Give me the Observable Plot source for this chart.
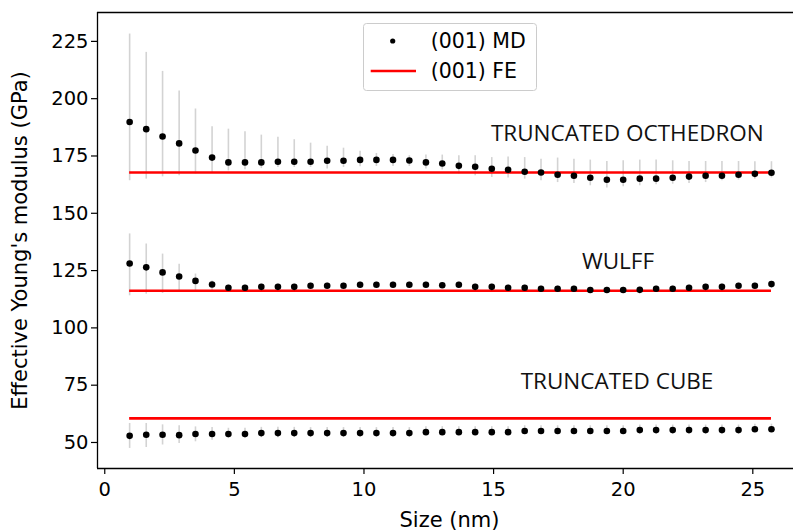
<!DOCTYPE html>
<html>
<head>
<meta charset="utf-8">
<script src="https://cdn.jsdelivr.net/npm/d3@7"></script>
<script src="https://cdn.jsdelivr.net/npm/@observablehq/plot@0.6"></script>
<style>
  html, body { margin: 0; padding: 0; background: #fff; overflow: hidden; }
  #wrap { position: relative; width: 793px; height: 531px; }
  #legend { position: absolute; left: 363px; top: 23px; }
</style>
</head>
<body>
<div id="wrap"></div>
<script>
// ---- data ----
const sizes = [0.96, 1.60, 2.23, 2.87, 3.50, 4.14, 4.77, 5.41, 6.04, 6.68,
               7.31, 7.94, 8.58, 9.21, 9.85, 10.48, 11.12, 11.75, 12.39, 13.02,
               13.66, 14.29, 14.93, 15.56, 16.20, 16.83, 17.47, 18.10, 18.73, 19.37,
               20.00, 20.64, 21.27, 21.91, 22.54, 23.18, 23.81, 24.45, 25.08, 25.72];

const shapes = ["TRUNCATED OCTHEDRON", "WULFF", "TRUNCATED CUBE"];

const octMD = [189.8, 186.7, 183.5, 180.5, 177.4, 174.3, 172.2, 172.2, 172.2, 172.5,
               172.5, 172.5, 172.9, 172.9, 173.3, 173.3, 173.3, 173.0, 172.2, 171.7,
               170.7, 170.3, 169.4, 169.0, 168.1, 167.8, 166.8, 166.4, 165.5, 164.6,
               164.6, 165.1, 165.1, 165.5, 166.0, 166.4, 166.4, 166.8, 167.2, 167.7];
const octLo = [164.2, 164.9, 165.9, 166.4, 167.1, 167.8, 168.5, 169.0, 169.5, 170.0,
               170.0, 170.0, 169.3, 170.0, 170.3, 170.4, 170.4, 170.4, 169.3, 168.9,
               167.1, 166.4, 165.6, 165.4, 164.9, 164.2, 163.4, 163.0, 162.0, 161.0,
               161.6, 162.0, 162.4, 162.7, 163.0, 163.4, 164.2, 164.5, 164.9, 165.4];
const octHi = [228.2, 220.2, 211.9, 203.4, 195.5, 187.7, 186.7, 185.6, 184.1, 183.2,
               182.1, 180.6, 179.3, 178.4, 177.1, 176.1, 175.7, 175.1, 175.4, 175.4,
               175.1, 175.1, 174.3, 174.6, 174.3, 173.6, 174.1, 173.6, 173.2, 172.6,
               172.9, 173.2, 173.2, 172.9, 172.6, 172.6, 172.6, 172.6, 172.5, 172.5];

const wulMD = [128.1, 126.4, 124.2, 122.4, 120.5, 118.9, 117.5, 117.5, 117.9, 117.9,
               117.9, 118.4, 118.4, 118.4, 118.8, 118.8, 118.8, 118.8, 118.8, 118.6,
               118.8, 117.9, 117.9, 117.5, 117.5, 117.1, 117.1, 117.1, 116.5, 116.5,
               116.5, 116.6, 117.1, 117.1, 117.5, 117.9, 117.9, 118.4, 118.4, 119.1];
const wulLo = [114.0, 114.7, 115.0, 115.4, 115.7, 115.4, 116.3, 116.3, 116.7, 116.7,
               116.7, 117.2, 117.2, 117.2, 117.6, 117.6, 117.6, 117.6, 117.6, 117.4,
               117.6, 116.7, 116.7, 116.3, 116.3, 115.9, 115.9, 115.9, 115.3, 115.3,
               115.3, 115.4, 115.9, 115.9, 116.3, 116.7, 116.7, 117.2, 117.2, 117.9];
const wulHi = [141.0, 136.6, 132.2, 127.8, 123.5, 120.5, 118.7, 118.7, 119.1, 119.1,
               119.1, 119.6, 119.6, 119.6, 120.0, 120.0, 120.0, 120.0, 120.0, 119.8,
               120.0, 119.1, 119.1, 118.7, 118.7, 118.3, 118.3, 118.3, 117.7, 117.7,
               117.7, 117.8, 118.3, 118.3, 118.7, 119.1, 119.1, 119.6, 119.6, 120.3];

const cubMD = [52.9, 53.4, 53.4, 53.2, 53.7, 53.7, 53.7, 53.7, 54.1, 54.1,
               54.1, 54.1, 54.1, 54.1, 54.1, 54.1, 54.1, 54.1, 54.5, 54.5,
               54.5, 54.5, 54.5, 54.5, 55.0, 55.0, 55.0, 55.0, 55.0, 55.0,
               55.0, 55.4, 55.4, 55.4, 55.4, 55.4, 55.4, 55.4, 55.8, 55.8];
const cubLo = [47.4, 47.8, 48.9, 49.6, 50.3, 51.0, 51.7, 51.7, 52.1, 52.1,
               52.3, 52.3, 52.4, 52.4, 52.6, 52.6, 52.8, 52.8, 53.2, 53.2,
               53.3, 53.3, 53.4, 53.4, 53.9, 53.9, 54.0, 54.0, 54.0, 54.0,
               54.0, 54.4, 54.4, 54.4, 54.4, 54.4, 54.4, 54.4, 54.8, 54.8];
const cubHi = [58.3, 58.3, 57.7, 57.3, 56.8, 56.5, 56.2, 56.2, 56.6, 56.6,
               56.6, 56.5, 56.5, 56.5, 56.5, 56.5, 56.5, 56.5, 56.9, 56.9,
               56.9, 56.9, 56.9, 56.9, 57.3, 57.3, 57.3, 57.3, 57.3, 57.3,
               57.3, 57.6, 57.6, 57.6, 57.6, 57.6, 57.6, 57.6, 58.0, 58.0];

const feValues = [167.8, 116.2, 60.5];

const annX = [20.16, 19.8, 19.76];
const annY = [184.7, 128.8, 76.5];

const xTicks = [0, 5, 10, 15, 20, 25];
const yTicks = [50, 75, 100, 125, 150, 175, 200, 225];
const xLabel = "Size (nm)";
const yLabel = "Effective Young's modulus (GPa)";
const legendLabels = ["(001) MD", "(001) FE"];

// ---- tables ----
const series = [
  {shape: shapes[0], md: octMD, lo: octLo, hi: octHi},
  {shape: shapes[1], md: wulMD, lo: wulLo, hi: wulHi},
  {shape: shapes[2], md: cubMD, lo: cubLo, hi: cubHi}
];
const rows = series.flatMap(s => sizes.map((x, i) => ({shape: s.shape, size: x, md: s.md[i], lo: s.lo[i], hi: s.hi[i]})));
const feRows = shapes.map((s, i) => ({shape: s, fe: feValues[i], x1: sizes[0], x2: sizes[sizes.length - 1]}));
const annRows = shapes.map((s, i) => ({text: s, x: annX[i], y: annY[i]}));

const xDomain = [-0.28, 26.57];
const yDomain = [38.65, 237.6];

const chart = Plot.plot({
  width: 793,
  height: 531,
  marginLeft: 97,
  marginRight: 0,
  marginTop: 12,
  marginBottom: 63,
  x: {domain: xDomain},
  y: {domain: yDomain},
  style: {fontFamily: "DejaVu Sans", fontSize: "19.5px", color: "#000", background: "#fff"},
  marks: [
    Plot.ruleX(rows, {x: "size", y1: "lo", y2: "hi", stroke: "#d3d3d3", strokeWidth: 1.6}),
    Plot.ruleY(feRows, {y: "fe", x1: "x1", x2: "x2", stroke: "#ff0000", strokeWidth: 2.6}),
    Plot.dot(rows, {x: "size", y: "md", r: 3.3, fill: "#000", stroke: "none"}),
    Plot.text(annRows, {x: "x", y: "y", text: "text", fontFamily: "Open Sans", fontSize: 22.5, fill: "#111"}),
    Plot.axisX({ticks: xTicks, tickSize: 6, tickPadding: 8, label: null, stroke: "#000", strokeWidth: 1.2}),
    Plot.axisY({ticks: yTicks, tickSize: 6, tickPadding: 3, label: null, stroke: "#000", strokeWidth: 1.2}),
    Plot.ruleX([xDomain[0]], {stroke: "#000", strokeWidth: 1.3}),
    Plot.ruleY([yDomain[0], yDomain[1]], {stroke: "#000", strokeWidth: 1.3}),
    Plot.text([yLabel], {frameAnchor: "left", textAnchor: "middle", lineAnchor: "middle", dx: -77, rotate: -90, fontSize: 21}),
    Plot.text([xLabel], {frameAnchor: "bottom", textAnchor: "middle", lineAnchor: "middle", dx: 4, dy: 52, fontSize: 21})
  ]
});

const wrap = document.getElementById("wrap");
wrap.appendChild(chart);

// legend (inside the axes, upper centre)
const ns = "http://www.w3.org/2000/svg";
const leg = document.createElementNS(ns, "svg");
leg.setAttribute("id", "legend");
leg.setAttribute("width", 175);
leg.setAttribute("height", 69);
leg.innerHTML = `
  <rect x="0.5" y="0.5" width="173" height="67" rx="3" ry="3" fill="rgba(255,255,255,0.85)" stroke="#cccccc" stroke-width="1"/>
  <circle cx="29.7" cy="18" r="2.6" fill="#000"/>
  <line x1="7.7" x2="53" y1="48" y2="48" stroke="#ff0000" stroke-width="2.6"/>
  <text x="67.7" y="18" dy="0.35em" font-family="DejaVu Sans" font-size="20.5" fill="#000">${legendLabels[0]}</text>
  <text x="67.7" y="48" dy="0.35em" font-family="DejaVu Sans" font-size="20.5" fill="#000">${legendLabels[1]}</text>`;
wrap.appendChild(leg);
</script>
</body>
</html>
